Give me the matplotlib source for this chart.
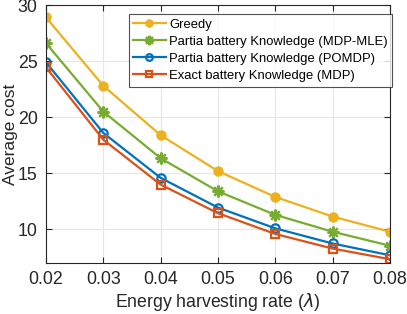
"""Average cost vs energy harvesting rate."""

import matplotlib.pyplot as plt

plt.rcParams["font.family"] = ["Liberation Sans", "DejaVu Sans"]
plt.rcParams["mathtext.fontset"] = "dejavusans"

rates = [0.02, 0.03, 0.04, 0.05, 0.06, 0.07, 0.08]
greedy = [28.9, 22.8, 18.4, 15.2, 12.9, 11.15, 9.8]
mdp_mle = [26.6, 20.5, 16.35, 13.4, 11.3, 9.8, 8.55]
pomdp = [24.9, 18.6, 14.6, 11.95, 10.1, 8.75, 7.7]
mdp = [24.45, 18.0, 14.0, 11.45, 9.6, 8.3, 7.35]

labels = [
    "Greedy",
    "Partia battery Knowledge (MDP-MLE)",
    "Partia battery Knowledge (POMDP)",
    "Exact battery Knowledge (MDP)",
]

YELLOW = "#EDB120"
GREEN = "#77AC30"
BLUE = "#0072BD"
RED = "#D95319"
AX = "#262626"


def main():
    fig = plt.figure(figsize=(4.07, 3.14), dpi=100)
    ax = fig.add_axes([0.113, 0.162, 0.845, 0.822])

    ax.plot(rates, greedy, color=YELLOW, lw=1.6, marker="o", ms=6.5,
            mfc=YELLOW, mec=YELLOW, label=labels[0])
    ax.plot(rates, mdp_mle, color=GREEN, lw=1.6, marker=(8, 2, 0), ms=8.5,
            mfc=GREEN, mec=GREEN, mew=1.6, label=labels[1])
    ax.plot(rates, pomdp, color=BLUE, lw=1.6, marker="o", ms=6,
            mfc="none", mec=BLUE, mew=1.6, label=labels[2])
    ax.plot(rates, mdp, color=RED, lw=1.6, marker="s", ms=5.5,
            mfc="none", mec=RED, mew=1.6, label=labels[3])

    ax.set_xlim(0.02, 0.08)
    ax.set_ylim(7, 30)
    ax.set_xticks(rates)
    ax.set_xticklabels([f"{r:.2f}" for r in rates])
    ax.set_yticks([10, 15, 20, 25, 30])

    ax.grid(True, color="#E6E6E6", lw=0.8)
    ax.set_axisbelow(True)
    for s in ax.spines.values():
        s.set_color(AX)
        s.set_linewidth(0.8)
    ax.tick_params(direction="in", top=True, right=True, colors=AX,
                   labelsize=12.8, length=4, width=0.8, pad=6)

    ax.set_xlabel(r"Energy harvesting rate ($\lambda$)", fontsize=12.7,
                  color=AX, labelpad=2)
    ax.set_ylabel("Average cost", fontsize=12.5, color=AX, labelpad=0)

    leg = ax.legend(loc="upper left", bbox_to_anchor=(0.24, 0.965),
                    fontsize=9.4, frameon=True, fancybox=False,
                    edgecolor=AX, borderpad=0.35, labelspacing=0.38,
                    handlelength=2.5, handletextpad=0.25, borderaxespad=0,
                    markerscale=0.8)
    leg.get_frame().set_linewidth(0.8)

    fig.savefig("out.png", dpi=100, facecolor="white")
    plt.close(fig)


if __name__ == "__main__":
    main()
